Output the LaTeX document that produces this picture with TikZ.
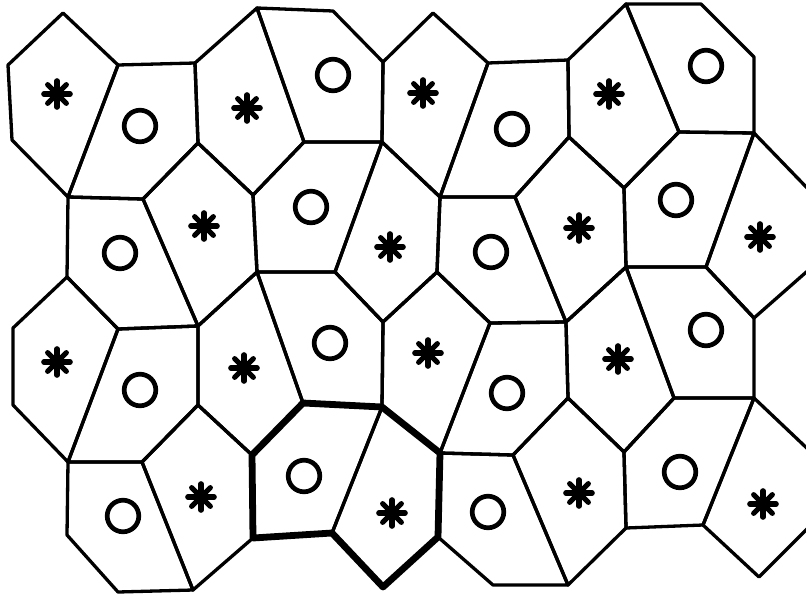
\documentclass[tikz,border=0pt]{standalone}
\begin{document}
\begin{tikzpicture}[x=1pt,y=-1pt,line join=round,
  edge/.style={line width=3.3pt},
  bold/.style={line width=6.8pt},
  sym/.style={line width=4.7pt,line cap=round},
  astsym/.style={line width=5.2pt,line cap=round},
  astpic/.pic={\foreach \a in {0,45,90,135}{\draw[astsym] (\a:13.2) -- (\a+180:13.2);}},
  ringpic/.pic={\draw[sym] (0,0) circle[radius=15.8];}]
\useasboundingbox (0,0) rectangle (806,595);
\clip (0,0) rectangle (806,595);
% vertices
\coordinate (p1) at (8,65);    \coordinate (p2) at (63,13);   \coordinate (p3) at (118,65);
\coordinate (p4) at (12,140);  \coordinate (p5) at (68,197);  \coordinate (p6) at (195,63);
\coordinate (p7) at (198,143); \coordinate (p8) at (143,199); \coordinate (p9) at (257,8);
\coordinate (p10) at (304,142);\coordinate (p11) at (253,195);\coordinate (p12) at (333,11);
\coordinate (p13) at (383,62); \coordinate (p14) at (382,142);\coordinate (p15) at (433,13);
\coordinate (p16) at (488,63); \coordinate (p17) at (440,197);\coordinate (p18) at (568,60);
\coordinate (p19) at (569,137);\coordinate (p20) at (515,197);\coordinate (p21) at (626,4);
\coordinate (p22) at (679,132);\coordinate (p23) at (624,188);\coordinate (p24) at (701,4);
\coordinate (p25) at (754,57); \coordinate (p26) at (754,133);
\coordinate (p27) at (198,326);\coordinate (p28) at (118,329);\coordinate (p29) at (67,277);
\coordinate (p30) at (257,272);\coordinate (p31) at (335,272);\coordinate (p32) at (437,272);
\coordinate (p33) at (383,322);\coordinate (p34) at (566,322);\coordinate (p35) at (490,323);
\coordinate (p36) at (626,267);\coordinate (p37) at (706,267);\coordinate (p38) at (812,193);
\coordinate (p39) at (812,267);\coordinate (p40) at (754,318);
\coordinate (p41) at (13,328); \coordinate (p42) at (68,462); \coordinate (p43) at (13,405);
\coordinate (p44) at (198,405);\coordinate (p45) at (142,462);\coordinate (p46) at (303,403);
\coordinate (p47) at (252,455);\coordinate (p48) at (382,407);\coordinate (p49) at (440,453);
\coordinate (p50) at (568,398);\coordinate (p51) at (513,455);\coordinate (p52) at (674,398);
\coordinate (p53) at (624,452);\coordinate (p54) at (754,398);
\coordinate (p55) at (193,590);\coordinate (p56) at (118,592);\coordinate (p57) at (67,535);
\coordinate (p58) at (253,538);\coordinate (p59) at (332,533);\coordinate (p60) at (438,537);
\coordinate (p61) at (383,587);\coordinate (p62) at (568,585);\coordinate (p63) at (493,585);
\coordinate (p64) at (626,528);\coordinate (p65) at (703,525);\coordinate (p66) at (812,453);
\coordinate (p67) at (812,524);\coordinate (p68) at (759,577);
% cells, row 1
\draw[edge] (p1)--(p2)--(p3)--(p5)--(p4)--cycle;
\draw[edge] (p3)--(p6)--(p7)--(p8)--(p5)--cycle;
\draw[edge] (p6)--(p9)--(p10)--(p11)--(p7)--cycle;
\draw[edge] (p9)--(p12)--(p13)--(p14)--(p10)--cycle;
\draw[edge] (p13)--(p15)--(p16)--(p17)--(p14)--cycle;
\draw[edge] (p16)--(p18)--(p19)--(p20)--(p17)--cycle;
\draw[edge] (p18)--(p21)--(p22)--(p23)--(p19)--cycle;
\draw[edge] (p21)--(p24)--(p25)--(p26)--(p22)--cycle;
% row 2
\draw[edge] (p5)--(p8)--(p27)--(p28)--(p29)--cycle;
\draw[edge] (p8)--(p7)--(p11)--(p30)--(p27)--cycle;
\draw[edge] (p11)--(p10)--(p14)--(p31)--(p30)--cycle;
\draw[edge] (p14)--(p17)--(p32)--(p33)--(p31)--cycle;
\draw[edge] (p17)--(p20)--(p34)--(p35)--(p32)--cycle;
\draw[edge] (p20)--(p19)--(p23)--(p36)--(p34)--cycle;
\draw[edge] (p23)--(p22)--(p26)--(p37)--(p36)--cycle;
\draw[edge] (p26)--(p38)--(p39)--(p40)--(p37)--cycle;
% row 3
\draw[edge] (p41)--(p29)--(p28)--(p42)--(p43)--cycle;
\draw[edge] (p28)--(p27)--(p44)--(p45)--(p42)--cycle;
\draw[edge] (p27)--(p30)--(p46)--(p47)--(p44)--cycle;
\draw[edge] (p30)--(p31)--(p33)--(p48)--(p46)--cycle;
\draw[edge] (p33)--(p32)--(p35)--(p49)--(p48)--cycle;
\draw[edge] (p35)--(p34)--(p50)--(p51)--(p49)--cycle;
\draw[edge] (p34)--(p36)--(p52)--(p53)--(p50)--cycle;
\draw[edge] (p36)--(p37)--(p40)--(p54)--(p52)--cycle;
% row 4
\draw[edge] (p42)--(p45)--(p55)--(p56)--(p57)--cycle;
\draw[edge] (p45)--(p44)--(p47)--(p58)--(p55)--cycle;
\draw[edge] (p47)--(p46)--(p48)--(p59)--(p58)--cycle;
\draw[edge] (p48)--(p49)--(p60)--(p61)--(p59)--cycle;
\draw[edge] (p49)--(p51)--(p62)--(p63)--(p60)--cycle;
\draw[edge] (p51)--(p50)--(p53)--(p64)--(p62)--cycle;
\draw[edge] (p53)--(p52)--(p54)--(p65)--(p64)--cycle;
\draw[edge] (p54)--(p66)--(p67)--(p68)--(p65)--cycle;
% highlighted pair of cells
\draw[bold] (p47)--(p46)--(p48)--(p49)--(p60)--(p61)--(p59)--(p58)--cycle;
% symbols
\foreach \x/\y in {57/94,247/108,423/93,609/94,204/226,390/247,579/228,760/237,
                   57/362,244/368,428/353,618/359,201/497,392/513,579/493,763/504}
  \pic at (\x,\y) {astpic};
\foreach \x/\y in {140/126,333/75,512/129,706/66,120/253,311/207,491/252,676/200,
                   140/390,330/343,507/393,706/330,123/516,304/476,488/512,680/472}
  \pic at (\x,\y) {ringpic};
\end{tikzpicture}
\end{document}
